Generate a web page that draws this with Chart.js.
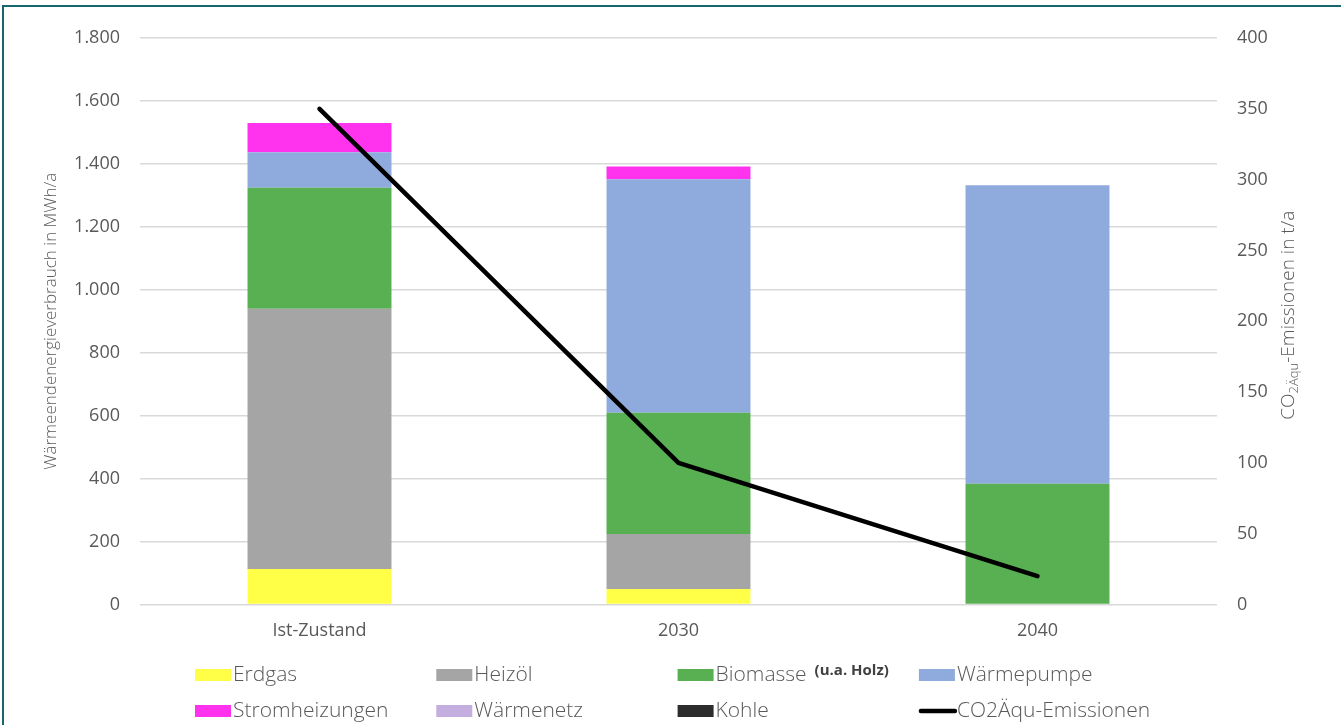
<!DOCTYPE html>
<html lang="de">
<head>
<meta charset="utf-8">
<title>Wärmeendenergieverbrauch und CO2Äqu-Emissionen</title>
<script src="https://cdn.jsdelivr.net/npm/chart.js@4.4.1/dist/chart.umd.min.js"></script>
<style>
  html, body { margin: 0; padding: 0; background: #ffffff; }
  #wrap { position: relative; width: 1341px; height: 725px; overflow: hidden; }
  #frame { position: absolute; left: 2px; top: 5px; width: 1400px; height: 800px;
           border-left: 2px solid #17666e; border-top: 2px solid #17666e; pointer-events: none; }
  canvas { position: absolute; left: 0; top: 0; }
</style>
</head>
<body>
<div id="wrap">
  <canvas id="chart" width="1341" height="725"></canvas>
  <div id="frame"></div>
</div>
<script>
// Kategorien (x-Achse)
const categories = ['Ist-Zustand', '2030', '2040'];

// Wärmeendenergieverbrauch je Energieträger in MWh/a
const erdgas         = [113, 49, 0];
const heizoel        = [827, 175, 0];
const biomasse       = [384, 385, 384];
const waermepumpe    = [113, 742, 948];
const stromheizungen = [93, 41, 0];
const waermenetz     = [0, 0, 0];
const kohle          = [0, 0, 0];

// CO2Äqu-Emissionen in t/a
const co2Emissionen = [350, 100, 20];

// Achsenbereiche
const leftTicks  = { min: 0, max: 1800, step: 200 };
const rightTicks = { min: 0, max: 400, step: 50 };

const labelColor = '#595959';
const gridColor = '#d9d9d9';
const biomasseZusatz = '(u.a. Holz)';

function deNumber(v) {
  return String(Math.round(v)).replace(/\B(?=(\d{3})+(?!\d))/g, '.');
}

function barSet(label, data, color) {
  return {
    type: 'bar', label, data, backgroundColor: color,
    borderWidth: 0,
    yAxisID: 'y', stack: 's', order: 1,
    barPercentage: 0.401, categoryPercentage: 1.0
  };
}

const datasets = [
  barSet('Erdgas', erdgas, '#ffff47'),
  barSet('Heizöl', heizoel, '#a5a5a5'),
  barSet('Biomasse', biomasse, '#58b052'),
  barSet('Wärmepumpe', waermepumpe, '#8faadc'),
  barSet('Stromheizungen', stromheizungen, '#ff33ee'),
  barSet('Wärmenetz', waermenetz, '#c4addf'),
  barSet('Kohle', kohle, '#2d2d2d'),
  {
    type: 'line', label: 'CO2Äqu-Emissionen', data: co2Emissionen,
    yAxisID: 'y1', borderColor: '#000000', backgroundColor: '#000000',
    borderWidth: 4.5, pointRadius: 0, borderCapStyle: 'round', borderJoinStyle: 'round',
    tension: 0, order: 0
  }
];

// Legende in festem Raster (4 Spalten, 2 Zeilen) unter dem Diagramm
const gridLegend = {
  id: 'gridLegend',
  afterDraw(chart) {
    const ctx = chart.ctx;
    const x0 = 195, colStep = 241.3, rows = [675, 711];
    ctx.save();
    chart.data.datasets.forEach((ds, i) => {
      const col = i % 4, row = Math.floor(i / 4);
      const x = x0 + col * colStep, y = rows[row];
      if (ds.type === 'line') {
        ctx.strokeStyle = ds.borderColor;
        ctx.lineWidth = 4.5;
        ctx.lineCap = 'round';
        ctx.beginPath();
        ctx.moveTo(x + 2, y);
        ctx.lineTo(x + 36, y);
        ctx.stroke();
      } else {
        ctx.fillStyle = ds.backgroundColor;
        ctx.fillRect(x, y - 6, 36, 12);
      }
      ctx.font = '300 21px "Open Sans"';
      ctx.fillStyle = labelColor;
      ctx.textBaseline = 'middle';
      ctx.textAlign = 'left';
      ctx.fillText(ds.label, x + 38, y);
      if (ds.label === 'Biomasse') {
        const w = ctx.measureText(ds.label).width;
        ctx.font = 'bold 15px "Open Sans"';
        ctx.fillStyle = '#404040';
        ctx.fillText(biomasseZusatz, x + 38 + w + 8, y - 4);
      }
    });
    ctx.restore();
  }
};

// Rechte Achsenbeschriftung mit tiefgestelltem "2Äqu"
const rightTitle = {
  id: 'rightTitle',
  afterDraw(chart) {
    const ctx = chart.ctx;
    const area = chart.chartArea;
    const cx = 1289, cy = (area.top + area.bottom) / 2 - 6;
    const parts = [
      { t: 'CO', f: '300 19px "Open Sans"', dy: 0 },
      { t: '2Äqu', f: '300 13px "Open Sans"', dy: 5 },
      { t: '-Emissionen in t/a', f: '300 19px "Open Sans"', dy: 0 }
    ];
    ctx.save();
    let total = 0;
    parts.forEach(p => { ctx.font = p.f; p.w = ctx.measureText(p.t).width; total += p.w; });
    ctx.translate(cx, cy);
    ctx.rotate(-Math.PI / 2);
    ctx.fillStyle = labelColor;
    ctx.textBaseline = 'middle';
    ctx.textAlign = 'left';
    let x = -total / 2;
    parts.forEach(p => { ctx.font = p.f; ctx.fillText(p.t, x, p.dy); x += p.w; });
    ctx.restore();
  }
};

new Chart(document.getElementById('chart'), {
  data: { labels: categories, datasets },
  plugins: [gridLegend, rightTitle],
  options: {
    responsive: false,
    animation: false,
    layout: { padding: { top: 38, left: 0, right: 0, bottom: 0 } },
    plugins: { legend: { display: false }, tooltip: { enabled: false } },
    scales: {
      x: {
        stacked: true,
        grid: { display: false, drawTicks: false },
        border: { display: false },
        ticks: { color: labelColor, font: { family: 'Open Sans', size: 18 }, padding: 16 },
        afterFit(scale) { scale.height = 120.5; }
      },
      y: {
        position: 'left', stacked: true,
        min: leftTicks.min, max: leftTicks.max,
        grid: { color: gridColor, lineWidth: 1.5, drawTicks: false },
        border: { display: false },
        ticks: {
          stepSize: leftTicks.step, color: labelColor, padding: 20,
          font: { family: 'Open Sans', size: 18 },
          callback: v => deNumber(v)
        },
        title: {
          display: true, text: 'Wärmeendenergieverbrauch in MWh/a',
          color: labelColor, font: { family: 'Open Sans', size: 17, weight: 300 },
          padding: { top: 41, bottom: 0 }
        },
        afterFit(scale) { scale.width = 140; }
      },
      y1: {
        position: 'right',
        min: rightTicks.min, max: rightTicks.max,
        grid: { display: false, drawTicks: false },
        border: { display: false },
        ticks: {
          stepSize: rightTicks.step, color: labelColor, padding: 20,
          font: { family: 'Open Sans', size: 18 }
        },
        afterFit(scale) { scale.width = 124; }
      }
    }
  }
});
</script>
</body>
</html>
